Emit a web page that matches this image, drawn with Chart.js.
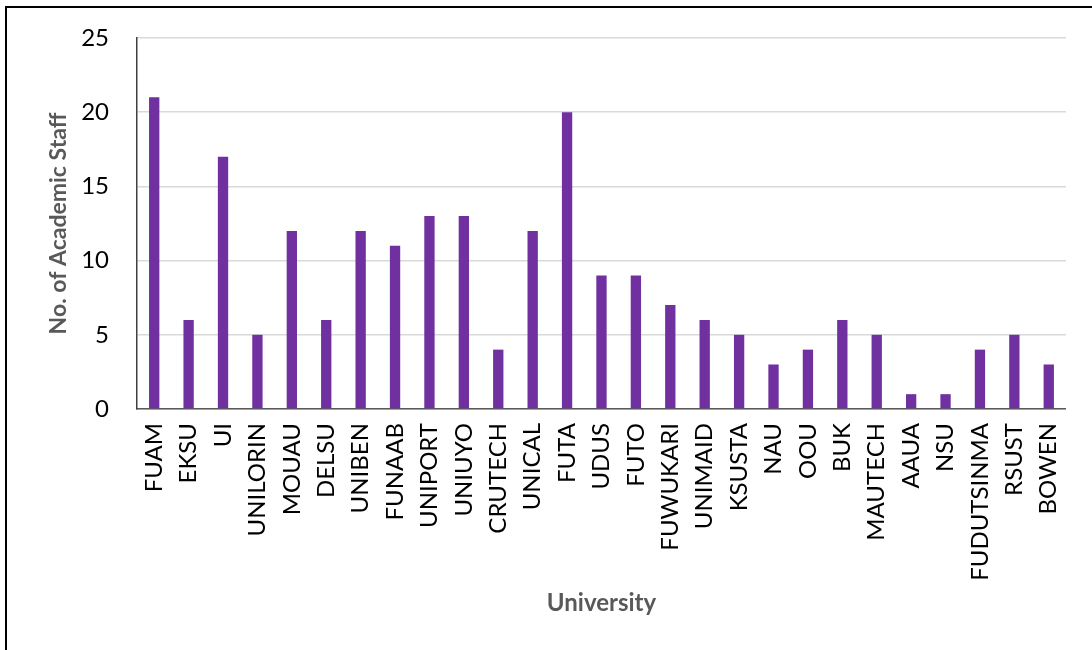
<!DOCTYPE html>
<html>
<head>
<meta charset="utf-8">
<script src="https://cdn.jsdelivr.net/npm/chart.js@4.4.0/dist/chart.umd.min.js"></script>
<style>
  html, body { margin: 0; padding: 0; background: #fff; overflow: hidden; }
  #frame { position: absolute; left: 5px; top: 6px; width: 1200px; height: 800px;
           border-left: 2px solid #000; border-top: 2px solid #000; }
  #wrap { position: absolute; left: 0; top: 0; width: 1092px; height: 650px; }
</style>
</head>
<body>
<div id="frame"></div>
<div id="wrap"><canvas id="bar_chart"></canvas></div>
<script>
const universities = ['FUAM', 'EKSU', 'UI', 'UNILORIN', 'MOUAU', 'DELSU', 'UNIBEN', 'FUNAAB', 'UNIPORT',
  'UNIUYO', 'CRUTECH', 'UNICAL', 'FUTA', 'UDUS', 'FUTO', 'FUWUKARI', 'UNIMAID', 'KSUSTA', 'NAU',
  'OOU', 'BUK', 'MAUTECH', 'AAUA', 'NSU', 'FUDUTSINMA', 'RSUST', 'BOWEN']
const staff = [21, 6, 17, 5, 12, 6, 12, 11, 13, 13, 4, 12, 20, 9, 9, 7, 6, 5, 3, 4, 6, 5, 1, 1, 4, 5, 3]
const yTicks = [0, 5, 10, 15, 20, 25]

const fontFam = 'Lato, "Open Sans", sans-serif'

const data = {
  labels: universities,
  datasets: [{
    label: 'No. of Academic Staff',
    data: staff,
    backgroundColor: '#7030A0',
    barPercentage: 0.3,
    categoryPercentage: 1
  }]
}

const options = {
  responsive: true,
  maintainAspectRatio: false,
  animation: false,
  layout: { padding: { top: 38, right: 24, left: 0, bottom: 0 } },
  plugins: { legend: { display: false }, tooltip: { enabled: false } },
  scales: {
    x: {
      grid: { display: false, drawTicks: false },
      border: { color: '#595959', width: 1.5 },
      ticks: { color: '#000', font: { family: fontFam, size: 24 }, maxRotation: 90, minRotation: 90, padding: 14, autoSkip: false },
      title: { display: true, text: 'University', color: '#595959', font: { family: fontFam, size: 24, weight: 'bold' }, padding: { top: 0, bottom: 32 } },
      afterFit: scale => { scale.height = 241 }
    },
    y: {
      min: 0,
      max: 25,
      afterBuildTicks: scale => { scale.ticks = yTicks.map(v => ({ value: v })) },
      grid: { color: '#d9d9d9', lineWidth: 1.5, drawTicks: false },
      border: { color: '#404040', width: 1.5 },
      ticks: { color: '#000', font: { family: fontFam, size: 24, lineHeight: 1 }, padding: 28 },
      title: { display: true, text: 'No. of Academic Staff', color: '#595959', font: { family: fontFam, size: 23, weight: 'bold' }, padding: { top: 45, bottom: 0 } },
      afterFit: scale => { scale.width = 137; scale.paddingTop = 0 }
    }
  }
}

new Chart('bar_chart', { type: 'bar', data, options })
</script>
</body>
</html>
